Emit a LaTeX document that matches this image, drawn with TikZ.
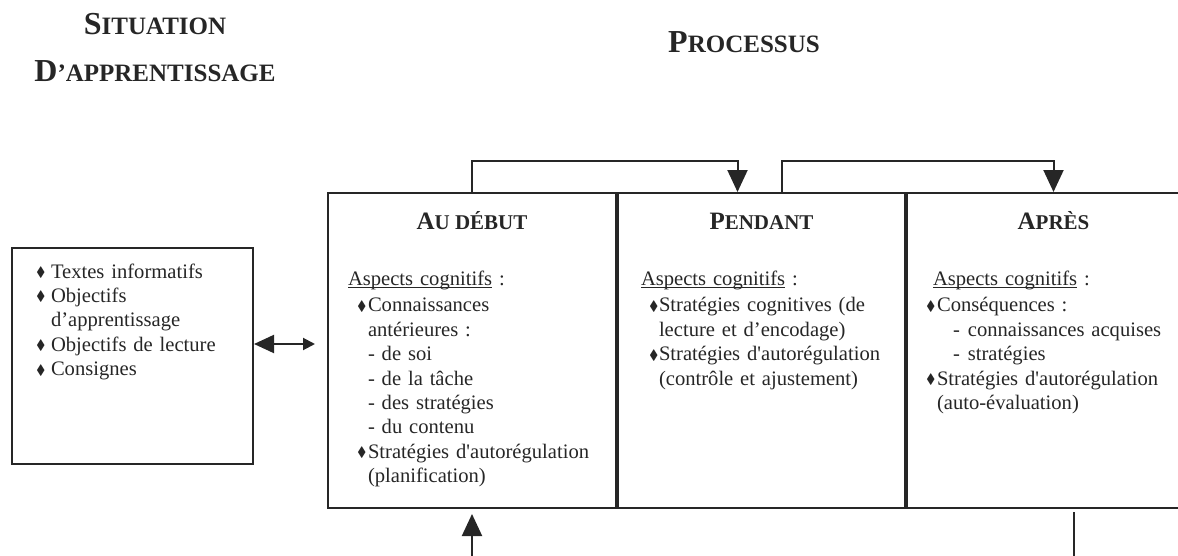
\documentclass[tikz,border=0pt]{standalone}
\usepackage{fontspec}
\setmainfont{Liberation Serif}
\usepackage{amssymb}
\usetikzlibrary{arrows.meta}

\newsavebox{\boitesoul}
\newcommand{\souligne}[1]{\sbox{\boitesoul}{#1}\rlap{\rule[-1.3pt]{\wd\boitesoul}{0.5pt}}\usebox{\boitesoul}}
\newcommand{\puce}[1]{\makebox[#1][l]{\raisebox{0.8pt}{\scalebox{0.85}[0.95]{$\scriptstyle\blacklozenge$}}}}
\newcommand{\pcgrand}[2]{{\fontsize{16}{16}\selectfont #1}#2}
\newcommand{\pcpetit}[2]{{\fontsize{12.5}{12.5}\selectfont #1}#2}

\begin{document}
\begin{tikzpicture}[x=0.5pt, y=-0.5pt, line width=1pt, color=black!85,
    cadre/.style={draw, rectangle, inner sep=0pt, anchor=north west},
    titre/.style={font=\bfseries\fontsize{12.5}{23.5}\selectfont, anchor=base, inner sep=0pt, text width=140pt, align=center},
    entete/.style={font=\bfseries\fontsize{10.5}{12}\selectfont, anchor=base, inner sep=0pt},
    corps/.style={font=\fontsize{10.3}{12.2}\selectfont, anchor=base west, inner sep=0pt, text width=140pt, align=left},
    fleche/.style={-{Triangle[length=11pt,width=10pt]}}]
    \useasboundingbox (0,0) rectangle (1178,556);
    \coordinate (niveau) at (0,344);
    \coordinate (bord) at (0,560);
    \node[titre] (tsit) at (155,35) {\pcgrand{S}{ITUATION}\\\pcgrand{D}{’APPRENTISSAGE}};
    \node[titre] (tproc) at (744,53) {\pcgrand{P}{ROCESSUS}};
    \node[cadre, minimum width=120.5pt, minimum height=108pt] (situation) at (11,247) {};
    \node[cadre, minimum width=144pt, minimum height=157.5pt] (debut) at (327,192) {};
    \node[cadre, minimum width=143.5pt, minimum height=157.5pt] (pendant) at (debut.north east) {};
    \node[cadre, minimum width=146.5pt, minimum height=157.5pt] (apres) at (pendant.north east) {};
    \node[entete] (hdebut) at ([yshift=-18.5pt]debut.north) {\pcpetit{A}{U DÉBUT}};
    \node[entete] (hpendant) at ([yshift=-18.5pt]pendant.north) {\pcpetit{P}{ENDANT}};
    \node[entete] (hapres) at ([yshift=-18.5pt]apres.north) {\pcpetit{A}{PRÈS}};
    \node[corps] (csit) at ([xshift=12pt,yshift=-15.5pt]situation.north west) {%
        \puce{7.5pt}Textes informatifs\\
        \puce{7.5pt}Objectifs\\
        \hspace*{7.5pt}d’apprentissage\\
        \puce{7.5pt}Objectifs de lecture\\
        \puce{7.5pt}Consignes};
    \node[corps] (cdebut) at ([xshift=10pt,yshift=-46.5pt]debut.north west) {%
        \souligne{Aspects cognitifs} :\\[1.2pt]
        \hspace*{4.5pt}\puce{5.5pt}Connaissances\\
        \hspace*{10pt}antérieures :\\
        \hspace*{10pt}- de soi\\
        \hspace*{10pt}- de la tâche\\
        \hspace*{10pt}- des stratégies\\
        \hspace*{10pt}- du contenu\\
        \hspace*{4.5pt}\puce{5.5pt}Stratégies d\textquotesingle autorégulation\\
        \hspace*{10pt}(planification)};
    \node[corps] (cpendant) at ([xshift=11.5pt,yshift=-46.5pt]pendant.north west) {%
        \souligne{Aspects cognitifs} :\\[1.2pt]
        \hspace*{4pt}\puce{5pt}Stratégies cognitives (de\\
        \hspace*{9pt}lecture et d’encodage)\\
        \hspace*{4pt}\puce{5pt}Stratégies d\textquotesingle autorégulation\\
        \hspace*{9pt}(contrôle et ajustement)};
    \node[corps] (capres) at ([xshift=9.5pt,yshift=-46.5pt]apres.north west) {%
        \hspace*{3.5pt}\souligne{Aspects cognitifs} :\\[1.2pt]
        \puce{5.5pt}Conséquences :\\
        \hspace*{13.5pt}-\hspace{4pt}connaissances acquises\\
        \hspace*{13.5pt}-\hspace{4pt}stratégies\\
        \puce{5.5pt}Stratégies d\textquotesingle autorégulation\\
        \hspace*{5.5pt}(auto-évaluation)};
    \draw[{Triangle[length=10pt,width=9pt]}-{Triangle[length=6pt,width=6pt]}, shorten >=6pt] (situation.east |- niveau) -- (debut.west |- niveau);
    \draw[fleche] (debut.north) -- ++(0,-31) -| ([xshift=-12pt]pendant.north);
    \draw[fleche] ([xshift=10pt]pendant.north) -- ++(0,-31) -| (apres.north);
    \draw[fleche, shorten >=2.5pt] (debut.south |- bord) -- (debut.south);
    \draw ([xshift=10pt,yshift=-1.5pt]apres.south) -- ++(0,50);
\end{tikzpicture}
\end{document}
